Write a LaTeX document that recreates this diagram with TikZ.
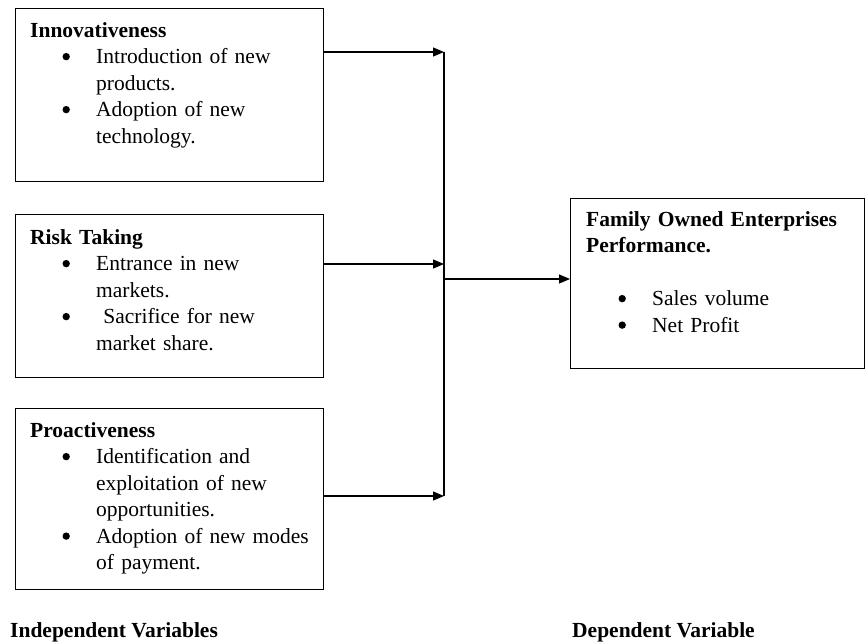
\documentclass[tikz,border=0pt]{standalone}
\usepackage{fontspec}
\setmainfont{Liberation Serif}
\usetikzlibrary{arrows.meta,positioning}
\newcommand{\bul}{\hspace*{32.3pt}\raisebox{3.3pt}{\tikz\fill (0,0) circle (3.7pt);}\hspace*{26.3pt}}
\newcommand{\cont}{\hspace*{66pt}}

\begin{document}
\begin{tikzpicture}[x=1pt,y=-1pt,
    box/.style={draw,line width=1pt,anchor=north west,minimum width=308pt,inner sep=0pt},
    txt/.style={anchor=north west,inner sep=0pt,align=left,text width=290pt,font=\fontsize{21.5}{26.5}\selectfont},
    lbl/.style={anchor=base west,inner sep=0pt,font=\fontsize{21.5}{26.5}\selectfont\bfseries},
    link/.style={line width=1.2pt},
    arrow/.style={link,-{Triangle[length=11pt,width=9pt]}}
  ]
    \useasboundingbox (0,0) rectangle (865,643);
    % independent variables
    \node[box,minimum height=173pt] (inno) at (15,8) {};
    \node[box,minimum height=163pt,below=32pt of inno] (risk) {};
    \node[box,minimum height=181pt,below=30pt of risk] (proa) {};
    % dependent variable
    \node[box,minimum width=294pt,minimum height=170pt] (perf) at (570,198) {};
    \node[txt] (innotxt) at ([shift={(15pt,-14pt)}]inno.north west) {\textbf{Innovativeness}\\
      \bul Introduction of new\\ \cont products.\\
      \bul Adoption of new\\ \cont technology.};
    \node[txt] (risktxt) at ([shift={(15pt,-15pt)}]risk.north west) {\textbf{Risk Taking}\\
      \bul Entrance in new\\ \cont markets.\\
      \bul\ Sacrifice for new\\ \cont market share.};
    \node[txt] (proatxt) at ([shift={(15pt,-14pt)}]proa.north west) {\textbf{Proactiveness}\\
      \bul Identification and\\ \cont exploitation of new\\ \cont opportunities.\\
      \bul Adoption of new modes\\ \cont of payment.};
    \node[txt] (perftxt) at ([shift={(16pt,-13pt)}]perf.north west) {\textbf{Family Owned Enterprises}\\
      \textbf{Performance.}\\[26.5pt]
      \bul Sales volume\\
      \bul Net Profit};
    % connectors
    \coordinate (bus) at (444,279);
    \coordinate (a1) at ([yshift=-44pt]inno.north east);
    \coordinate (a2) at ([yshift=-50pt]risk.north east);
    \coordinate (a3) at ([yshift=-88pt]proa.north east);
    \draw[arrow] (a1) -- (a1 -| bus);
    \draw[arrow] (a2) -- (a2 -| bus);
    \draw[arrow] (a3) -- (a3 -| bus);
    \draw[link] (a1 -| bus) -- (a3 -| bus);
    \draw[arrow] (bus) -- (bus -| perf.west);
    \node[lbl] (indep) at (10,637) {Independent Variables};
    \node[lbl] (dep) at (572,637) {Dependent Variable};
\end{tikzpicture}
\end{document}
